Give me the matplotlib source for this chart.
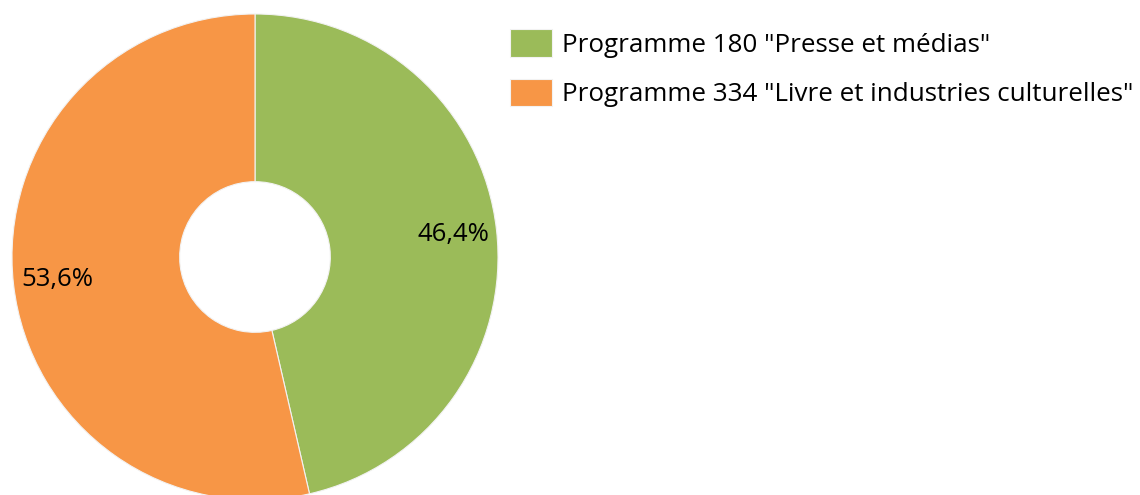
import matplotlib
matplotlib.use('Agg')
import matplotlib.pyplot as plt

# données
labels = ['Programme 180 "Presse et médias"',
          'Programme 334 "Livre et industries culturelles"']
parts = [46.4, 53.6]
colors = ['#9BBB59', '#F79646']

plt.rcParams['font.family'] = ['Open Sans', 'DejaVu Sans']

fig = plt.figure(figsize=(11.4, 4.95), dpi=100)

# axe du donut (centre ~ (255, 257) px, rayon ~ 243 px)
cx, cy, r = 255, 495 - 257, 243
ax = fig.add_axes([(cx - r) / 1140, (cy - r) / 495, 2 * r / 1140, 2 * r / 495])

wedges, texts, autotexts = ax.pie(
    parts, colors=colors, startangle=90, counterclock=False,
    autopct=lambda p: f'{p:.1f}%'.replace('.', ','),
    pctdistance=0.82,
    wedgeprops=dict(width=0.69, edgecolor='#f2f2f2', linewidth=0.8),
    textprops=dict(fontsize=18.5, color='black'))
ax.set_xlim(-1, 1)
ax.set_ylim(-1, 1)

fig.legend(wedges, labels, loc='upper left',
           bbox_to_anchor=(500 / 1140, 1 - 19 / 495),
           frameon=False, fontsize=18.7,
           handlelength=1.62, handleheight=1.24,
           handletextpad=0.35, labelspacing=0.8, borderaxespad=0)

fig.savefig('out.png', dpi=100)
